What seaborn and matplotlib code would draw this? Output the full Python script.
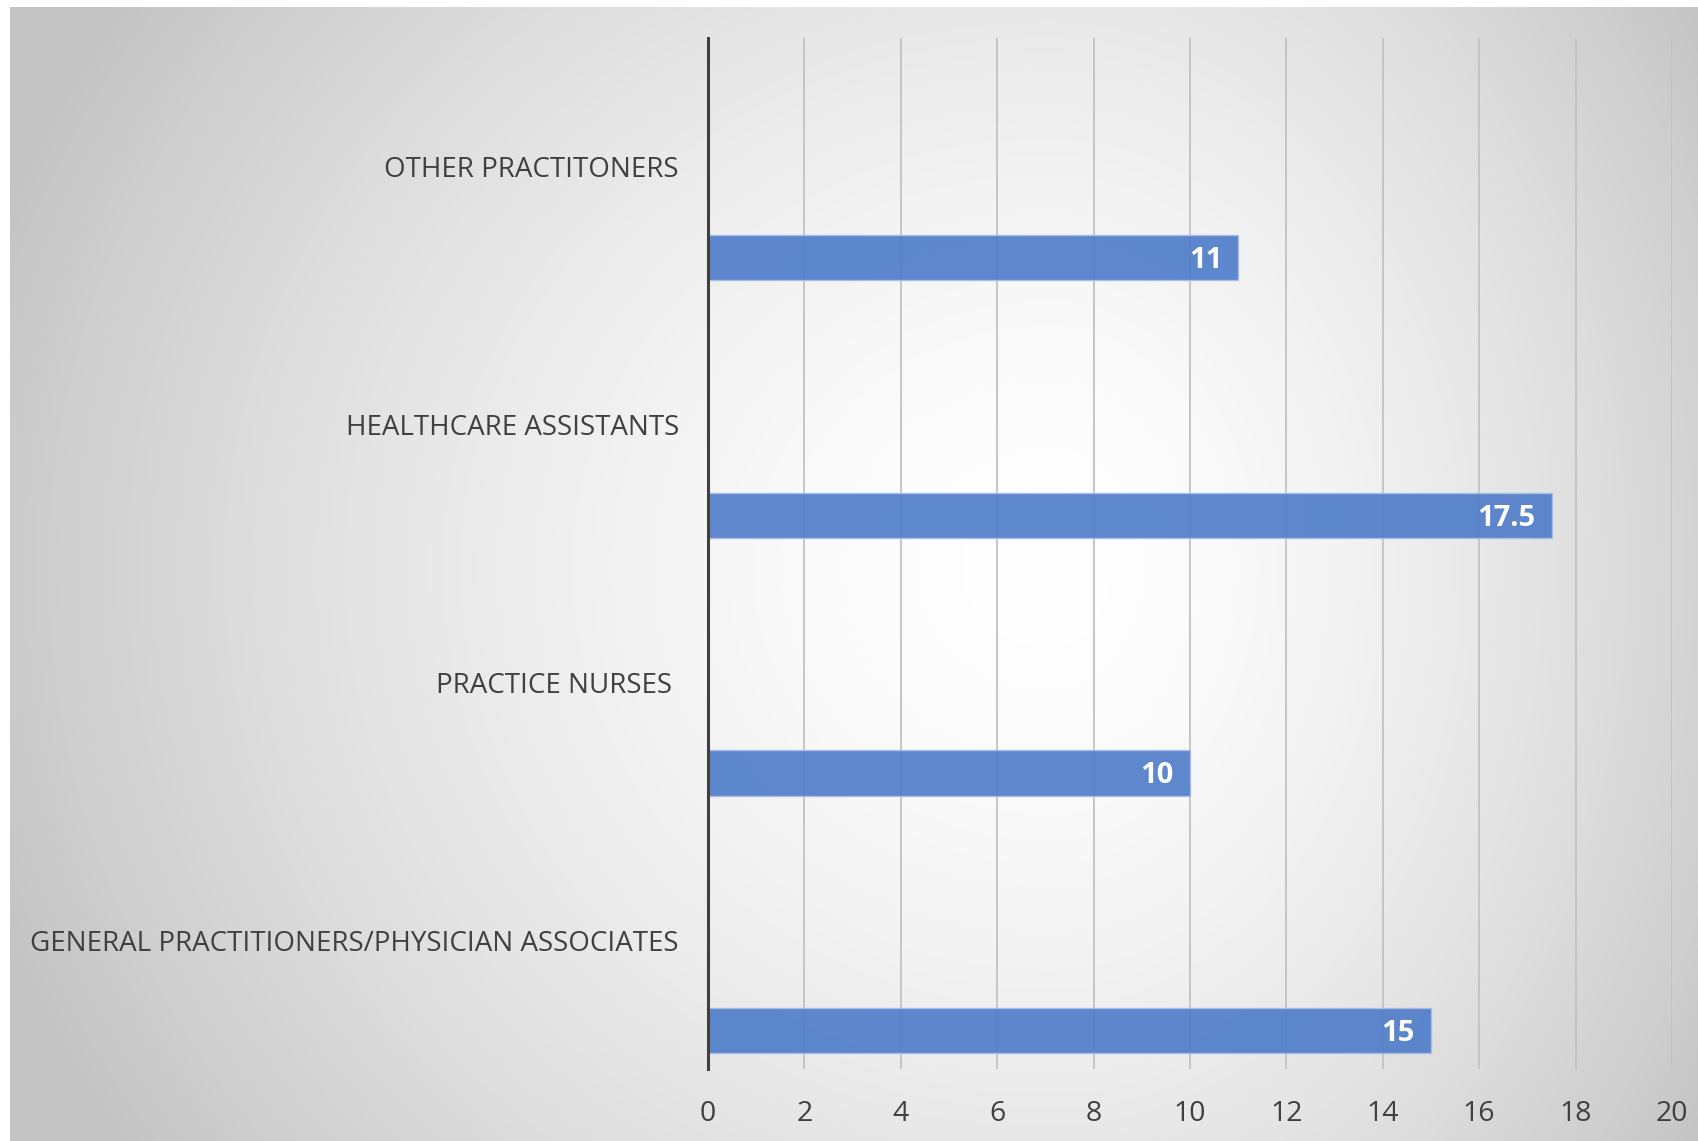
import numpy as np
import pandas as pd
import matplotlib
matplotlib.use("Agg")
import matplotlib.pyplot as plt
import seaborn as sns

categories = ["OTHER PRACTITONERS", "HEALTHCARE ASSISTANTS", "PRACTICE NURSES ",
              "GENERAL PRACTITIONERS/PHYSICIAN ASSOCIATES"]
values = [11, 17.5, 10, 15]
x_ticks = [0, 2, 4, 6, 8, 10, 12, 14, 16, 18, 20]

sns.set_style("white")
plt.rcParams["font.family"] = ["Open Sans", "DejaVu Sans"]

W, H = 1698, 1141
fig = plt.figure(figsize=(W / 100, H / 100), dpi=100)
fig.patch.set_facecolor("white")

# background gradient (chart area)
bx0, by0 = 10, 7
bg = fig.add_axes([bx0 / W, 0, (W - bx0) / W, (H - by0) / H], zorder=-10)
gw, gh = W - bx0, H - by0
yy, xx = np.mgrid[0:gh, 0:gw].astype(float)
cx, cy = 1040, 560
u = np.where(xx < cx, (xx - cx) / cx, (xx - cx) / ((gw - cx) * 1.12))
v = np.where(yy < cy, (yy - cy) / cy, (yy - cy) / (gh - cy)) * 0.6
r = np.sqrt(u ** 2 + v ** 2)
g = 255 - 52 * r ** 1.6
g = np.clip(g, 195, 255) / 255.0
bg.imshow(np.dstack([g, g, g]), aspect="auto", interpolation="bilinear")
bg.axis("off")

# main axes
left, right, top, bottom = 708, 1672, 38, 1069
ax = fig.add_axes([left / W, 1 - bottom / H, (right - left) / W, (bottom - top) / H])
ax.set_facecolor("none")

df = pd.DataFrame({"category": categories, "value": values})
sns.barplot(data=df, x="value", y="category", orient="h", order=categories,
            color="#4D7BC9", alpha=0.9, saturation=1, width=0.1746,
            edgecolor="#A9BEE6", linewidth=1.0, ax=ax, zorder=3)

ax.set_xlim(0, 20)
ax.set_ylim(3.1484, -0.8516)
ax.set_xticks(x_ticks)
ax.set_xticklabels([str(t) for t in x_ticks])
ax.set_yticks([i - 0.3516 for i in range(len(categories))])
ax.set_yticklabels(categories)
ax.set_xlabel("")
ax.set_ylabel("")

ax.grid(axis="x", color="#c2c2c2", linewidth=1.3, zorder=0)
ax.grid(axis="y", visible=False)
ax.set_axisbelow(True)
for s in ["top", "right", "bottom"]:
    ax.spines[s].set_visible(False)
ax.spines["left"].set_color("#404040")
ax.spines["left"].set_linewidth(2.2)
ax.spines["left"].set_zorder(5)

ax.tick_params(axis="x", length=0, pad=22, labelsize=20.5, labelcolor="#404040")
ax.tick_params(axis="y", length=0, pad=21, labelsize=20.0, labelcolor="#404040")

for p, v in zip(ax.patches, values):
    ax.annotate(f"{v:g}", xy=(p.get_x() + p.get_width(), p.get_y() + p.get_height() / 2),
                xytext=(-11.5, -7.5), textcoords="offset points", ha="right", va="baseline",
                color="white", fontsize=21, fontweight="bold", zorder=6)

fig.savefig("out.png", dpi=100)
